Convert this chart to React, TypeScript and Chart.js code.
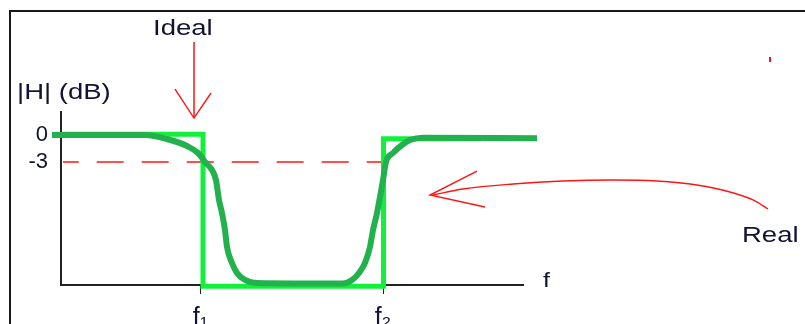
import React, { useEffect, useRef } from "react";
import { Chart, registerables } from "chart.js";

Chart.register(...registerables);

// Axis ranges: frequency (arbitrary units), magnitude in dB
const X_RANGE = [0, 462];
const Y_RANGE = [-16.67, 2.56];

// Tick labels
const xTickValues = [139.5, 322];
const xTickLabels = ["f\u2081", "f\u2082"];
const yTickValues = [0, -3];
const yTickLabels = ["0", "-3"];

// Real (smooth) band-stop response
const realFreq = [-9, 84, 106, 126, 137, 144, 151, 155, 158, 161, 164, 166, 171, 176, 184, 196, 282, 291, 298, 304, 309, 312, 316, 319, 322, 325, 332, 341, 349, 362, 476];
const realGain = [0, 0, -0.44, -1.22, -2.0, -3.0, -3.89, -5.0, -7.22, -8.67, -10.56, -12.44, -14.22, -15.33, -16.11, -16.44, -16.5, -16.11, -15.33, -14.22, -12.44, -10.56, -8.67, -6.89, -5.0, -3.0, -2.0, -1.11, -0.56, -0.3, -0.37];

// Ideal (brick-wall) response
const idealFreq = [0, 142, 142, 322.5, 322.5, 420];
const idealGain = [0.1, 0.1, -16.8, -16.8, -0.4, -0.4];

// -3 dB reference line
const cutoffFreq = [2, 322];
const cutoffGain = [-3, -3];

// "Ideal" arrow
const idealArrowFreq = [133, 133];
const idealArrowGain = [10.33, 1.89];
const idealHeadFreq = [114, 133, 150];
const idealHeadGain = [5.11, 1.89, 4.67];

// "Real" curved arrow
const realArrowFreq = [707, 692, 669, 636, 596, 552, 502, 452, 402, 372];
const realArrowGain = [-8.22, -7.22, -6.33, -5.56, -5.11, -5.0, -5.11, -5.44, -6.0, -6.67];
const realHeadFreq = [416, 369, 424];
const realHeadGain = [-4.0, -6.67, -8.0];

// small stray red mark
const markFreq = [709, 709];
const markGain = [8.67, 8.11];

// Annotation texts (anchored in data units: left / baseline)
const labelTexts = ["Ideal", "Real", "|H| (dB)", "f"];
const labelFreq = [92, 681, -44, 482];
const labelGain = [11.11, -11.89, 4.0, -16.89];

const pts = (xs: number[], ys: number[]) => xs.map((x, i) => ({ x, y: ys[i] }));

const TEXT_COLOR = "#121232";
const RED = "#ff1414";

const decorPlugin = {
  id: "decor",
  beforeDraw(chart: any) {
    const ctx = chart.ctx;
    ctx.save();
    ctx.fillStyle = "#1a1a1a";
    ctx.fillRect(9, 10, 2, 400);
    ctx.fillRect(9, 10, 900, 2);
    ctx.restore();
  },
  afterDraw(chart: any) {
    const ctx = chart.ctx;
    const xs = chart.scales.x;
    const ys = chart.scales.y;
    ctx.save();
    ctx.fillStyle = TEXT_COLOR;
    ctx.textBaseline = "alphabetic";
    ctx.textAlign = "left";
    labelTexts.forEach((t, i) => {
      const px = xs.getPixelForValue(labelFreq[i]);
      const py = ys.getPixelForValue(labelGain[i]);
      const size = t === "f" ? 20 : 22;
      ctx.save();
      ctx.translate(px, py);
      ctx.scale(1.25, 1);
      ctx.font = `${size}px "Liberation Sans", Arial, sans-serif`;
      ctx.fillText(t, 0, 0);
      ctx.restore();
    });
    ctx.restore();
  },
};

export default function App() {
  const ref = useRef<HTMLCanvasElement | null>(null);

  useEffect(() => {
    if (!ref.current) return;
    const redLine = (data: any, width = 1.4) => ({
      data,
      borderColor: RED,
      borderWidth: width,
      pointRadius: 0,
      fill: false,
      clip: false as any,
      tension: 0,
      order: 3,
    });
    const chart = new Chart(ref.current, {
      type: "line",
      data: {
        datasets: [
          {
            label: "Real",
            data: pts(realFreq, realGain),
            borderColor: "#22b14c",
            borderWidth: 6,
            pointRadius: 0,
            cubicInterpolationMode: "monotone",
            borderJoinStyle: "round",
            clip: false as any,
            order: 0,
          },
          {
            label: "Ideal",
            data: pts(idealFreq, idealGain),
            borderColor: "#12f03c",
            borderWidth: 5,
            pointRadius: 0,
            tension: 0,
            borderJoinStyle: "miter",
            clip: false as any,
            order: 1,
          },
          {
            label: "-3 dB",
            data: pts(cutoffFreq, cutoffGain),
            borderColor: RED,
            borderWidth: 1.5,
            borderDash: [27, 18],
            borderDashOffset: 11.3,
            pointRadius: 0,
            clip: false as any,
            order: 2,
          },
          redLine(pts(idealArrowFreq, idealArrowGain), 1.5),
          redLine(pts(idealHeadFreq, idealHeadGain), 1.4),
          { ...redLine(pts(realArrowFreq, realArrowGain), 1.4), cubicInterpolationMode: "monotone" },
          redLine(pts(realHeadFreq, realHeadGain), 1.4),
          redLine(pts(markFreq, markGain), 2),
        ] as any,
      },
      options: {
        responsive: false,
        animation: false,
        events: [],
        layout: {
          autoPadding: false,
          padding: { left: 11, top: 112, right: 282, bottom: 0 },
        },
        plugins: {
          legend: { display: false },
          tooltip: { enabled: false },
        },
        scales: {
          x: {
            type: "linear",
            bounds: "data",
            afterDataLimits: (s: any) => {
              s.min = X_RANGE[0];
              s.max = X_RANGE[1];
            },
            afterBuildTicks: (s: any) => {
              s.ticks = xTickValues.map((v) => ({ value: v }));
            },
            afterFit: (s: any) => {
              s.height = 39;
            },
            grid: {
              display: true,
              drawOnChartArea: false,
              drawTicks: true,
              tickLength: 9,
              color: "#222",
              lineWidth: 1,
            },
            border: { display: true, color: "#222", width: 2 },
            ticks: {
              autoSkip: false,
              maxRotation: 0,
              padding: 9,
              color: TEXT_COLOR,
              font: { family: '"Liberation Sans", Arial, sans-serif', size: 25 },
              callback: (v: any) => {
                const i = xTickValues.indexOf(Number(v));
                return i >= 0 ? xTickLabels[i] : "";
              },
            },
          },
          y: {
            type: "linear",
            min: Y_RANGE[0],
            max: Y_RANGE[1],
            afterBuildTicks: (s: any) => {
              s.ticks = yTickValues.map((v) => ({ value: v }));
            },
            afterFit: (s: any) => {
              s.width = 50;
            },
            grid: { display: false, drawTicks: false },
            border: { display: true, color: "#222", width: 2 },
            ticks: {
              autoSkip: false,
              padding: 13,
              color: TEXT_COLOR,
              font: { family: '"Liberation Sans", Arial, sans-serif', size: 22 },
              callback: (v: any) => {
                const i = yTickValues.indexOf(Number(v));
                return i >= 0 ? yTickLabels[i] : "";
              },
            },
          },
        },
      },
      plugins: [decorPlugin],
    });
    return () => chart.destroy();
  }, []);

  return (
    <div style={{ position: "fixed", left: 0, top: 0, width: 805, height: 324, background: "#fff" }}>
      <canvas ref={ref} width={805} height={324} style={{ display: "block" }} />
    </div>
  );
}
